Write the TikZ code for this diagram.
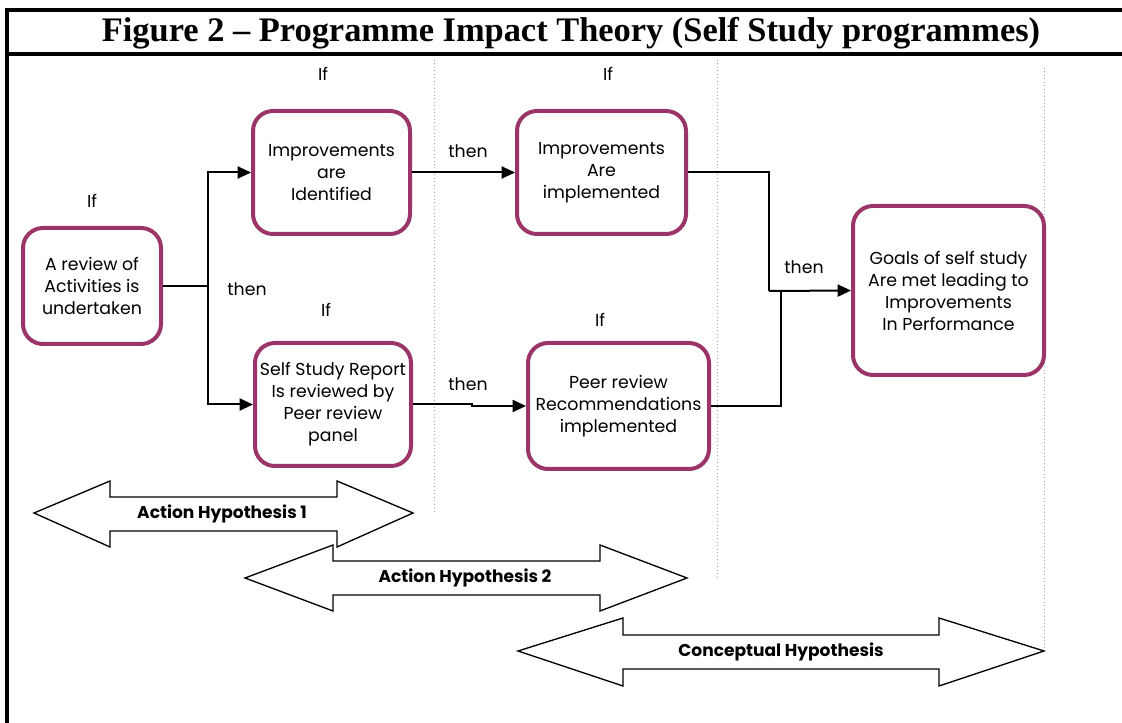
\documentclass[tikz,border=0pt]{standalone}
\usepackage{fontspec}
\setmainfont{Poppins}
\newfontfamily\titlefont{Liberation Serif}
\usetikzlibrary{arrows.meta}
\definecolor{boxpurple}{RGB}{155,52,104}
\tikzstyle{box} = [draw=boxpurple, line width=3pt, rounded corners=15pt, fill=white, align=center, inner sep=0pt, font={\fontsize{13}{16.5}\selectfont}]
\tikzstyle{lbl} = [font={\fontsize{13}{16.5}\selectfont}]
\tikzstyle{conn} = [line width=1.5pt, -{Triangle[length=10pt,width=9pt]}]
\tikzstyle{plain} = [line width=1.5pt]
\tikzstyle{guide} = [draw=gray!70, dotted, line width=0.6pt]
\tikzstyle{block} = [draw=black, fill=white, line width=1pt]
\tikzstyle{hyp} = [font={\fontsize{12.8}{15}\selectfont\bfseries}]

\begin{document}
\begin{tikzpicture}[x=0.75pt,y=-0.75pt]
    \useasboundingbox (0,0) rectangle (1122,723);
    % frame and title
    \draw[line width=3pt] (7,723) -- (7,10) -- (1122,10);
    \draw[line width=3pt] (7,54) -- (1122,54);
    \node[font={\titlefont\fontsize{25.8}{28}\selectfont\bfseries}](title) at (571,33){Figure 2 – Programme Impact Theory (Self Study programmes)};
    % dotted guides
    \draw[guide] (434,60) -- (434,512);
    \draw[guide] (717,60) -- (717,577);
    \draw[guide] (1044,68) -- (1044,648);
    % boxes
    \node[box,minimum width=103.5pt,minimum height=87pt](A) at (92,286){A review of\\Activities is\\undertaken};
    \node[box,minimum width=117.75pt,minimum height=92.25pt](B) at (331.5,172.5){Improvements\\are\\Identified};
    \node[box,minimum width=126.75pt,minimum height=92.25pt](C) at (601.5,172.5){Improvements\\Are\\implemented};
    \node[box,minimum width=117pt,minimum height=92.25pt](D) at (333,404.5){Self Study Report\\Is reviewed by\\Peer review\\panel};
    \node[box,minimum width=135.75pt,minimum height=94.5pt](E) at (618.5,406){Peer review\\Recommendations\\implemented};
    \node[box,minimum width=143.25pt,minimum height=126.75pt](F) at (948.5,290.5){Goals of self study\\Are met leading to\\Improvements\\In Performance};
    % labels
    \node[lbl](if0) at (92,201){If};
    \node[lbl](if1) at (323,74){If};
    \node[lbl](if2) at (608,74){If};
    \node[lbl](if3) at (326,310){If};
    \node[lbl](if4) at (600,320){If};
    \node[lbl](then0) at (247,289){then};
    \node[lbl](then1) at (468,151){then};
    \node[lbl](then2) at (468,384){then};
    \node[lbl](then3) at (804,267){then};
    % connectors
    \coordinate (split) at (208,286);
    \coordinate (join) at (769,291);
    \coordinate (join2) at (781,291);
    \draw[plain](A)--(split);
    \draw[conn](split)|-(B);
    \draw[conn](split)|-(D);
    \draw[conn](B)--(C);
    \draw[conn](D.east)--++(59,0)|-(E.west);
    \draw[plain](C.east)-|(join);
    \draw[plain](E.east)-|(join2);
    \draw[conn](join)--(F.west);
    % hypothesis arrows
    \draw[block] (34,513) -- (110,481) -- (110,497) -- (337,497) -- (337,481) -- (413,513) -- (337,547) -- (337,531) -- (110,531) -- (110,547) -- cycle;
    \node[hyp](ah1) at (222,514){Action Hypothesis 1};
    \draw[block] (245,578) -- (333,545) -- (333,561) -- (600,561) -- (600,545) -- (687,578) -- (600,611) -- (600,595) -- (333,595) -- (333,611) -- cycle;
    \node[hyp](ah2) at (465,578){Action Hypothesis 2};
    \draw[block] (518,651) -- (623,618) -- (623,635) -- (939,635) -- (939,618) -- (1044,651) -- (939,686) -- (939,669) -- (623,669) -- (623,686) -- cycle;
    \node[hyp](ch) at (781,652){Conceptual Hypothesis};
\end{tikzpicture}
\end{document}
